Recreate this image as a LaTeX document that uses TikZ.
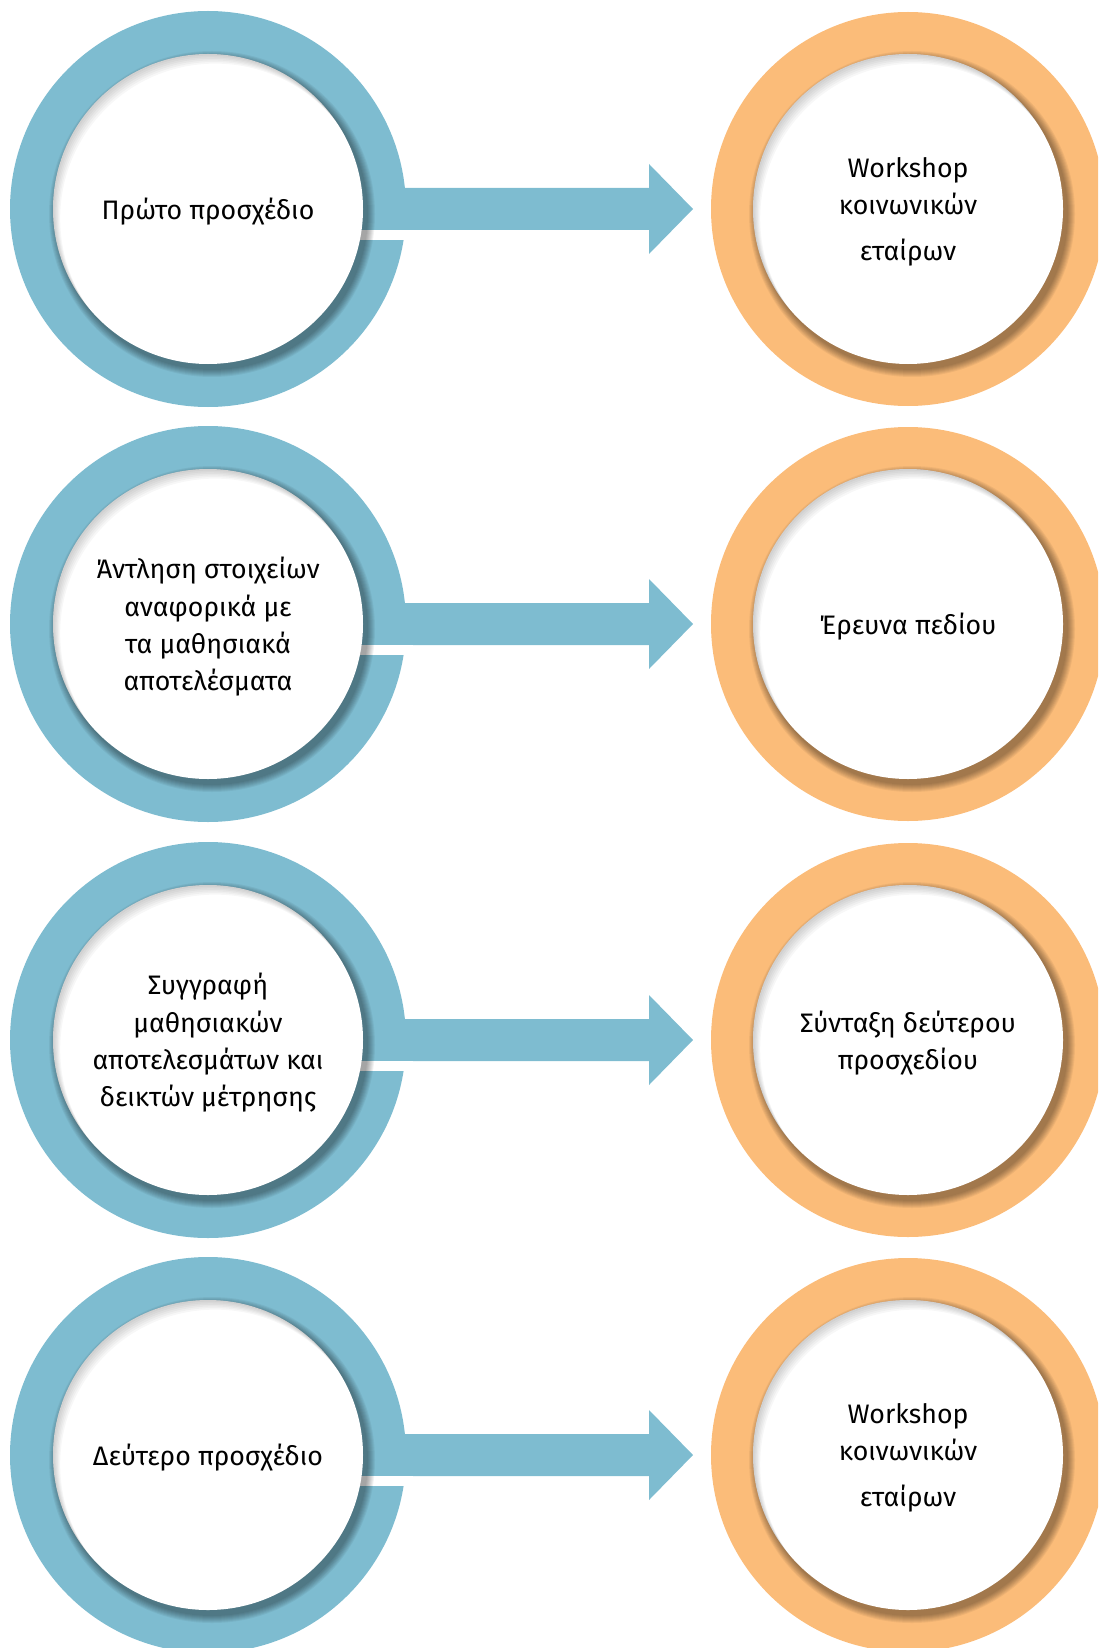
\documentclass[tikz,border=0pt]{standalone}
\usepackage{fontspec}
\setmainfont{Fira Sans}
\usepackage{tikz}
\usetikzlibrary{calc}
\definecolor{ringblau}{RGB}{126,188,208}
\definecolor{ringorange}{RGB}{251,188,121}

\begin{document}
\begin{tikzpicture}[x=0.025cm, y=-0.025cm,
		beschr/.style={align=center, inner sep=0pt, yshift=-2pt, font=\fontsize{19}{26.6}\selectfont}]
		\useasboundingbox (0,0) rectangle (1098,1648);
		\clip (0,0) rectangle (1098,1648);
		
		% Mittelpunkte
		\foreach \i/\y in {1/209,2/624,3/1040,4/1455} {
			\coordinate (l\i) at (208,\y);
			\coordinate (r\i) at (908,\y);
		}
		
		% Ringe und Pfeile
		\foreach \i in {1,...,4} {
			\fill[ringblau] (l\i) circle (198);
			\fill[ringorange] (r\i) circle (197);
			\fill[ringblau] ($(l\i)+(150,-21)$) -- ($(l\i)+(441,-21)$) -- ($(l\i)+(441,-45)$) -- ($(r\i)+(-215,0)$) -- ($(l\i)+(441,45)$) -- ($(l\i)+(441,21)$) -- ($(l\i)+(150,21)$) -- cycle;
			\fill[white] ($(l\i)+(140,21)$) rectangle ($(l\i)+(205,31)$);
		}
		
		% Scheiben mit Schatten
		\foreach \s in {l,r}
		\foreach \i in {1,...,4} {
			\foreach \k in {1,...,8}
			\fill[black, opacity=0.05] ($(\s\i)+(4,5)$) circle (155+\k);
			\fill[white] (\s\i) circle (155);
			\begin{scope}
				\clip (\s\i) circle (155);
				\foreach \k in {1,...,6}
				\fill[black, opacity=0.03, even odd rule] (\s\i) circle (160) ($(\s\i)+(\k*1.2,\k*1.6)$) circle (155);
			\end{scope}
		}
		
		% Beschriftungen
		\node[beschr] (t1) at (l1) {Πρώτο προσχέδιο};
		\node[beschr] (u1) at (r1) {Workshop\\κοινωνικών\\[6pt]εταίρων};
		\node[beschr] (t2) at (l2) {Άντληση στοιχείων\\αναφορικά με\\τα μαθησιακά\\αποτελέσματα};
		\node[beschr] (u2) at (r2) {Έρευνα πεδίου};
		\node[beschr] (t3) at (l3) {Συγγραφή\\μαθησιακών\\αποτελεσμάτων και\\δεικτών μέτρησης};
		\node[beschr] (u3) at (r3) {Σύνταξη δεύτερου\\προσχεδίου};
		\node[beschr] (t4) at (l4) {Δεύτερο προσχέδιο};
		\node[beschr] (u4) at (r4) {Workshop\\κοινωνικών\\[6pt]εταίρων};
	\end{tikzpicture}
\end{document}
